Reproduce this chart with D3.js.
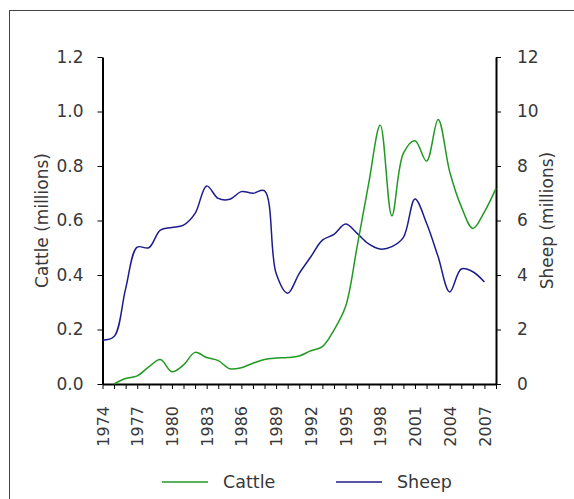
<!DOCTYPE html>
<html>
<head>
<meta charset="utf-8">
<script src="https://cdn.jsdelivr.net/npm/d3@7"></script>
<style>
  body { margin: 0; background: #fff; }
  svg text { font-family: "DejaVu Sans", sans-serif; fill: #383838; }
</style>
</head>
<body>
<svg id="chart" width="574" height="499"></svg>
<script>
// livestock numbers, millions
const cattleYears = [1975,1976,1977,1978,1979,1980,1981,1982,1983,1984,1985,1986,1987,1988,1989,1990,1991,
  1992,1993,1994,1995,1996,1997,1998,1999,2000,2001,2002,2003,2004,2005,2006,2007,2008];
const cattle = [0.0,0.02,0.03,0.063,0.09,0.045,0.07,0.116,0.097,0.086,0.056,0.06,0.076,0.09,0.095,0.097,0.103,
  0.122,0.137,0.198,0.284,0.504,0.736,0.95,0.617,0.847,0.893,0.818,0.971,0.779,0.651,0.571,0.632,0.718];
const sheepYears = [1974,1975,1976,1977,1978,1979,1980,1981,1982,1983,1984,1985,1986,1987,1988,1989,1990,1991,
  1992,1993,1994,1995,1996,1997,1998,1999,2000,2001,2002,2003,2004,2005,2006,2007];
const sheep = [1.61,1.74,3.5,5.02,5.0,5.65,5.74,5.83,6.26,7.27,6.81,6.78,7.06,7.0,7.09,4.06,3.33,4.06,
  4.67,5.28,5.49,5.87,5.53,5.14,4.95,5.04,5.38,6.79,5.90,4.67,3.38,4.22,4.12,3.74];
const yearLabels = [1974,1977,1980,1983,1986,1989,1992,1995,1998,2001,2004,2007];
const cattleTicks = [0,0.2,0.4,0.6,0.8,1.0,1.2];
const sheepTicks = [0,2,4,6,8,10,12];
const seriesNames = ["Cattle", "Sheep"];
const seriesColors = ["#229922", "#1c1c8c"];

const svg = d3.select("#chart");
const plotLeft = 102.5, plotRight = 496, plotTop = 57, plotBottom = 384;

// outer frame
svg.append("rect").attr("x", 9.5).attr("y", 10.5).attr("width", 600).attr("height", 600)
  .attr("fill", "none").attr("stroke", "#444").attr("stroke-width", 1);

const x = d3.scaleLinear().domain([1974, 2008]).range([plotLeft, plotRight]);
const yL = d3.scaleLinear().domain([0, 1.2]).range([plotBottom, plotTop]);
const yR = d3.scaleLinear().domain([0, 12]).range([plotBottom, plotTop]);

function styleAxis(g) {
  g.select(".domain").attr("stroke", "#000").attr("stroke-width", 2);
  g.selectAll(".tick line").attr("stroke", "#000");
  g.selectAll(".tick text").attr("font-size", 17).attr("fill", "#383838");
}

svg.append("g").attr("transform", `translate(${plotLeft},0)`)
  .call(d3.axisLeft(yL).tickValues(cattleTicks).tickFormat(d3.format(".1f")).tickSize(5).tickPadding(14).tickSizeOuter(0))
  .call(styleAxis);

svg.append("g").attr("transform", `translate(${plotRight},0)`)
  .call(d3.axisRight(yR).tickValues(sheepTicks).tickFormat(d3.format("d")).tickSize(5).tickPadding(16).tickSizeOuter(0))
  .call(styleAxis);

const xg = svg.append("g").attr("transform", `translate(0,${plotBottom})`)
  .call(d3.axisBottom(x).tickValues(d3.range(1974, 2009)).tickFormat(d => yearLabels.includes(d) ? d : "")
    .tickSize(5).tickSizeOuter(0))
  .call(styleAxis);
xg.selectAll(".tick text")
  .attr("font-size", 16)
  .attr("transform", "rotate(-90)")
  .attr("text-anchor", "end")
  .attr("x", -22).attr("y", 0).attr("dy", "0.35em");

// lines
const curve = d3.curveCatmullRom.alpha(0.5);
const cattleLine = d3.line().x((d, i) => x(cattleYears[i])).y(d => yL(d)).curve(curve);
const sheepLine = d3.line().x((d, i) => x(sheepYears[i])).y(d => yR(d)).curve(curve);

svg.append("path").datum(sheep).attr("d", sheepLine)
  .attr("fill", "none").attr("stroke", seriesColors[1]).attr("stroke-width", 1.5);
svg.append("path").datum(cattle).attr("d", cattleLine)
  .attr("fill", "none").attr("stroke", seriesColors[0]).attr("stroke-width", 1.5);

// axis titles
svg.append("text").attr("transform", `translate(48,${(plotTop + plotBottom) / 2}) rotate(-90)`)
  .attr("text-anchor", "middle").attr("font-size", 17).text("Cattle (millions)");
svg.append("text").attr("transform", `translate(553,${(plotTop + plotBottom) / 2}) rotate(-90)`)
  .attr("text-anchor", "middle").attr("font-size", 17).text("Sheep (millions)");

// legend
const legendX = [162, 336];
seriesNames.forEach((name, i) => {
  const g = svg.append("g").attr("transform", `translate(${legendX[i]},482)`);
  g.append("line").attr("x1", 0).attr("x2", 46).attr("stroke", seriesColors[i]).attr("stroke-width", 1.5);
  g.append("text").attr("x", 61).attr("dy", "0.35em").attr("font-size", 17.5).text(name);
});
</script>
</body>
</html>
